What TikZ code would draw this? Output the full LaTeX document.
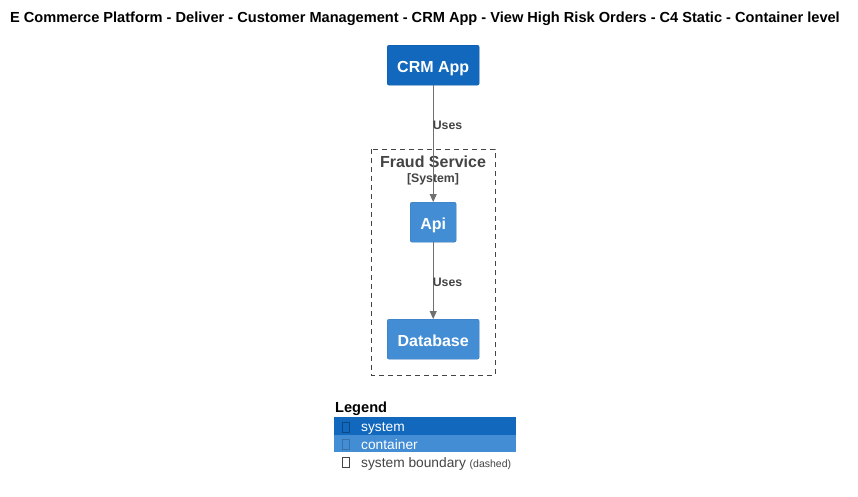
\documentclass[tikz,border=0pt]{standalone}
\usepackage{fontspec}
\setmainfont{Liberation Sans}
\usetikzlibrary{arrows.meta}
\definecolor{sysblue}{HTML}{1168BD}
\definecolor{contblue}{HTML}{438DD5}
\definecolor{arrowgray}{HTML}{707070}
\definecolor{textgray}{HTML}{444444}
\definecolor{boundgray}{HTML}{444444}
\tikzset{
  boxtext/.style={text=white, font=\fontsize{16}{18}\selectfont\bfseries, inner sep=0pt, anchor=north west, text height=14pt, text depth=0pt, rounded corners=2pt},
  sysbox/.style={boxtext, draw=sysblue!85!black, fill=sysblue},
  contbox/.style={boxtext, draw=contblue!85!black, fill=contblue},
  rel/.style={draw=arrowgray, line width=0.8pt, -{Triangle[length=8pt,width=7pt]}},
  rellabel/.style={text=textgray, font=\fontsize{12.3}{14}\selectfont\bfseries, inner sep=0pt},
  glyph/.style={draw=#1, line width=0.6pt, minimum width=7pt, minimum height=10pt, inner sep=0pt},
}
\begin{document}
\begin{tikzpicture}[x=1pt,y=-1pt]
\useasboundingbox[fill=white] (0,0) rectangle (858,496);
\node[font=\fontsize{14.6}{16}\selectfont\bfseries, inner sep=0pt] (title) at (425,19) {E Commerce Platform - Deliver - Customer Management - CRM App - View High Risk Orders - C4 Static - Container level};
% boundary
\draw[boundgray, dashed, dash pattern=on 5pt off 4pt, line width=0.7pt] (371,149) rectangle (495,375);
\node[text=textgray, font=\fontsize{16}{18}\selectfont\bfseries, inner sep=0pt] (bname) at (433,161.5) {Fraud Service};
\node[text=textgray, font=\fontsize{12.3}{14}\selectfont\bfseries, inner sep=0pt] (btype) at (433,179) {[System]};
% nodes
\node[sysbox, minimum width=92pt, minimum height=40pt] (crm) at (387,45) {CRM App};
\node[contbox, minimum width=46pt, minimum height=40pt] (api) at (410,202) {Api};
\node[contbox, minimum width=92pt, minimum height=40pt] (db) at (387,319) {Database};
% relations
\draw[rel] (crm.south) -- (api.north);
\node[rellabel] (l1) at (447.5,125) {Uses};
\draw[rel] (api.south) -- (db.north);
\node[rellabel] (l2) at (447.5,282) {Uses};
% legend
\node[font=\fontsize{14.6}{16}\selectfont\bfseries, anchor=west, inner sep=0pt] (leg) at (335,409) {Legend};
\fill[sysblue] (334,417) rectangle (516,435);
\fill[contblue] (334,435) rectangle (516,452);
\node[glyph=sysblue!70!black] (g1) at (345.5,427) {};
\node[glyph=contblue!80!black] (g2) at (345.5,444) {};
\node[glyph=textgray] (g3) at (345.5,462) {};
\node[text=white, anchor=west, inner sep=0pt, font=\fontsize{13.75}{15}\selectfont] (t1) at (361,428) {system};
\node[text=white, anchor=west, inner sep=0pt, font=\fontsize{13.75}{15}\selectfont] (t2) at (361,444.5) {container};
\node[text=textgray, anchor=base west, inner sep=0pt, font=\fontsize{13.75}{15}\selectfont] (t3) at (361,467) {system boundary \fontsize{10.5}{11}\selectfont(dashed)};
\end{tikzpicture}
\end{document}
